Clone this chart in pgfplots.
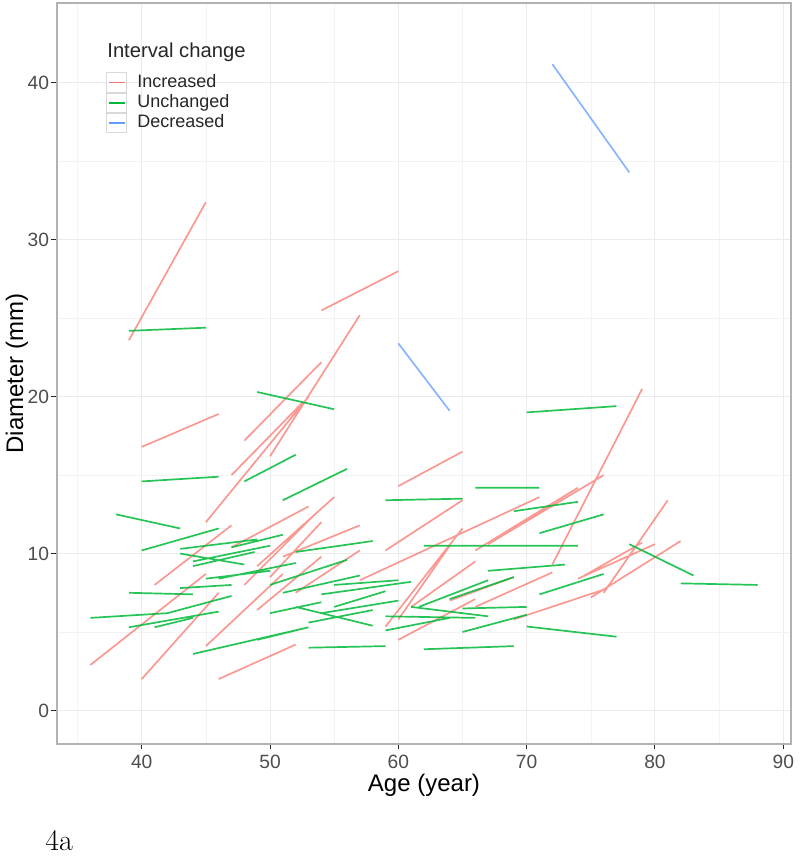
\documentclass[border=0pt]{standalone}
\usepackage{fontspec}
\usepackage{pgfplots}
\pgfplotsset{compat=1.18}
\newfontfamily\arial{Liberation Sans}
\definecolor{incr}{HTML}{F8766D}
\definecolor{unch}{HTML}{00BA38}
\definecolor{decr}{HTML}{619CFF}
\definecolor{gridc}{HTML}{EBEBEB}
\definecolor{txtc}{HTML}{4D4D4D}

\begin{document}
\begin{tikzpicture}
\path[use as bounding box] (-28.5pt,-58pt) rectangle (371.5pt,372pt);
\begin{axis}[
    at={(0,0)}, anchor=south west, scale only axis,
    width=367pt, height=370.5pt,
    xmin=33.4, xmax=90.6, ymin=-2.14, ymax=45.1,
    xtick={40,50,...,90}, ytick={0,10,...,40},
    minor xtick={35,45,...,85}, minor ytick={5,15,...,35},
    grid=both,
    major grid style={gridc, line width=0.5pt},
    minor grid style={gridc!60!white, line width=0.3pt},
    tick align=outside, tick pos=left,
    major tick length=2.75pt, minor tick length=0pt,
    axis line style={gray!60, line width=0.6pt},
    tick style={gray!30!black, line width=0.5pt},
    /pgf/number format/assume math mode=true,
    tick label style={font=\arial\fontsize{9.6}{11}\selectfont, text=txtc},
    xticklabel style={inner sep=1pt, yshift=-1.5pt},
    yticklabel style={inner sep=1pt},
    xlabel={Age (year)}, ylabel={Diameter (mm)},
    label style={font=\arial\fontsize{12}{14}\selectfont, inner sep=0pt},
    xlabel style={at={(axis description cs:0.5,0)}, anchor=center, yshift=-20.5pt},
    ylabel style={at={(axis description cs:0,0.5)}, anchor=center, rotate=0, yshift=20pt},
    legend style={at={(axis description cs:0,1)}, anchor=north west,
        xshift=21.5pt, yshift=-32.5pt, draw=none, fill=none,
        font=\arial\fontsize{9}{10}\selectfont, text=black!85,
        row sep=0pt, nodes={inner sep=0pt, minimum height=9.75pt},
        cells={anchor=west}},
    legend image code/.code={
        \draw[black!15, fill=white, line width=0.5pt] (0pt,-4.8pt) rectangle (10pt,4.8pt);
        \draw[#1] (1pt,0pt) -- (9pt,0pt);
    },
    every axis plot/.append style={line width=0.85pt},
]
\addlegendimage{incr, line width=0.9pt}
\addlegendentry{\hspace{5pt}Increased}
\addlegendimage{unch, line width=0.9pt}
\addlegendentry{\hspace{5pt}Unchanged}
\addlegendimage{decr, line width=0.9pt}
\addlegendentry{\hspace{5pt}Decreased}

% Increased
\addplot[incr, draw opacity=0.75, unbounded coords=jump, forget plot] coordinates {
(39,23.6) (45,32.4) (nan,nan)
(40,16.8) (46,18.9) (nan,nan)
(54,25.5) (60,28.0) (nan,nan)
(48,17.2) (54,22.2) (nan,nan)
(50,16.2) (57,25.2) (nan,nan)
(45,12.0) (53,20.0) (nan,nan)
(47,15.0) (52.5,19.6) (nan,nan)
(41,8.0) (47,11.8) (nan,nan)
(36,2.9) (45,8.7) (nan,nan)
(40,2.0) (46,7.5) (nan,nan)
(45,4.1) (51,8.7) (nan,nan)
(46,2.0) (52,4.2) (nan,nan)
(47,10.4) (53,13.0) (nan,nan)
(48,8.0) (53.5,12.5) (nan,nan)
(49,9.2) (55,13.6) (nan,nan)
(50,8.5) (54,12.0) (nan,nan)
(51,9.8) (57,11.8) (nan,nan)
(49,6.4) (54,9.8) (nan,nan)
(52,7.5) (57,10.2) (nan,nan)
(57,8.3) (71,13.6) (nan,nan)
(59,10.2) (65,13.4) (nan,nan)
(60,14.3) (65,16.5) (nan,nan)
(59,5.35) (65,11.6) (nan,nan)
(60,5.8) (64,10.5) (nan,nan)
(60,4.5) (66,7.1) (nan,nan)
(61,6.6) (66,9.5) (nan,nan)
(64,7.0) (69,8.5) (nan,nan)
(66,6.6) (72,8.8) (nan,nan)
(66,10.2) (74,14.2) (nan,nan)
(67,10.6) (76,15.0) (nan,nan)
(69,5.8) (76,7.7) (nan,nan)
(75,7.2) (82,10.8) (nan,nan)
(76,7.5) (81,13.4) (nan,nan)
(72,9.3) (79,20.5) (nan,nan)
(74,8.4) (80,10.6) (nan,nan)
(74.5,8.6) (79,10.7)
};

% Unchanged
\addplot[unch, draw opacity=0.85, unbounded coords=jump, forget plot] coordinates {
(39,24.2) (45,24.4) (nan,nan)
(49,20.3) (55,19.2) (nan,nan)
(40,14.6) (46,14.9) (nan,nan)
(48,14.6) (52,16.3) (nan,nan)
(51,13.4) (56,15.4) (nan,nan)
(59,13.4) (65,13.5) (nan,nan)
(66,14.2) (71,14.2) (nan,nan)
(70,19.0) (77,19.4) (nan,nan)
(38,12.5) (43,11.6) (nan,nan)
(40,10.2) (46,11.6) (nan,nan)
(43,10.3) (49,10.9) (nan,nan)
(43,10.0) (48,9.3) (nan,nan)
(44,9.5) (50,10.5) (nan,nan)
(44,9.2) (48.8,10.1) (nan,nan)
(47,10.4) (51,11.2) (nan,nan)
(45,8.4) (50,8.9) (nan,nan)
(43,7.8) (47,8.0) (nan,nan)
(39,7.5) (44,7.4) (nan,nan)
(42,6.2) (47,7.3) (nan,nan)
(36,5.9) (42,6.2) (nan,nan)
(39,5.3) (46,6.3) (nan,nan)
(41,5.3) (44,5.9) (nan,nan)
(44,3.6) (53,5.3) (nan,nan)
(49,4.5) (53,5.3) (nan,nan)
(50,6.2) (54,6.9) (nan,nan)
(52,10.1) (58,10.8) (nan,nan)
(50,8.0) (56,9.6) (nan,nan)
(55,8.0) (60,8.3) (nan,nan)
(54,7.4) (61,8.2) (nan,nan)
(52,6.6) (58,5.4) (nan,nan)
(54,6.2) (60,7.0) (nan,nan)
(51,7.5) (57,8.6) (nan,nan)
(53,5.6) (58,6.4) (nan,nan)
(55,6.6) (59,7.6) (nan,nan)
(46,8.4) (52,9.4) (nan,nan)
(53,4.0) (59,4.1) (nan,nan)
(62,3.9) (69,4.1) (nan,nan)
(62,10.5) (74,10.5) (nan,nan)
(67,8.9) (73,9.3) (nan,nan)
(69,12.7) (74,13.3) (nan,nan)
(71,11.3) (76,12.5) (nan,nan)
(71,7.4) (76,8.7) (nan,nan)
(70,5.35) (77,4.7) (nan,nan)
(65,5.0) (70,6.1) (nan,nan)
(61,6.6) (67,6.0) (nan,nan)
(65,6.5) (70,6.6) (nan,nan)
(59,6.0) (66,5.9) (nan,nan)
(59,5.1) (64,5.9) (nan,nan)
(61.6,6.6) (67,8.3) (nan,nan)
(64,7.1) (69,8.5) (nan,nan)
(78,10.6) (83,8.6) (nan,nan)
(82,8.1) (88,8.0)
};

% Decreased
\addplot[decr, draw opacity=0.75, unbounded coords=jump, forget plot] coordinates {
(72,41.2) (78,34.3) (nan,nan)
(60,23.4) (64,19.1)
};
\end{axis}
\node[anchor=west, inner sep=0pt, font=\arial\fontsize{10.1}{12}\selectfont, text=black!85]
    at (25pt,346pt) {Interval change};
\node[anchor=base west, inner sep=0pt, font=\fontsize{15}{18}\selectfont] at (-6pt,-53pt) {4a};
\end{tikzpicture}
\end{document}
